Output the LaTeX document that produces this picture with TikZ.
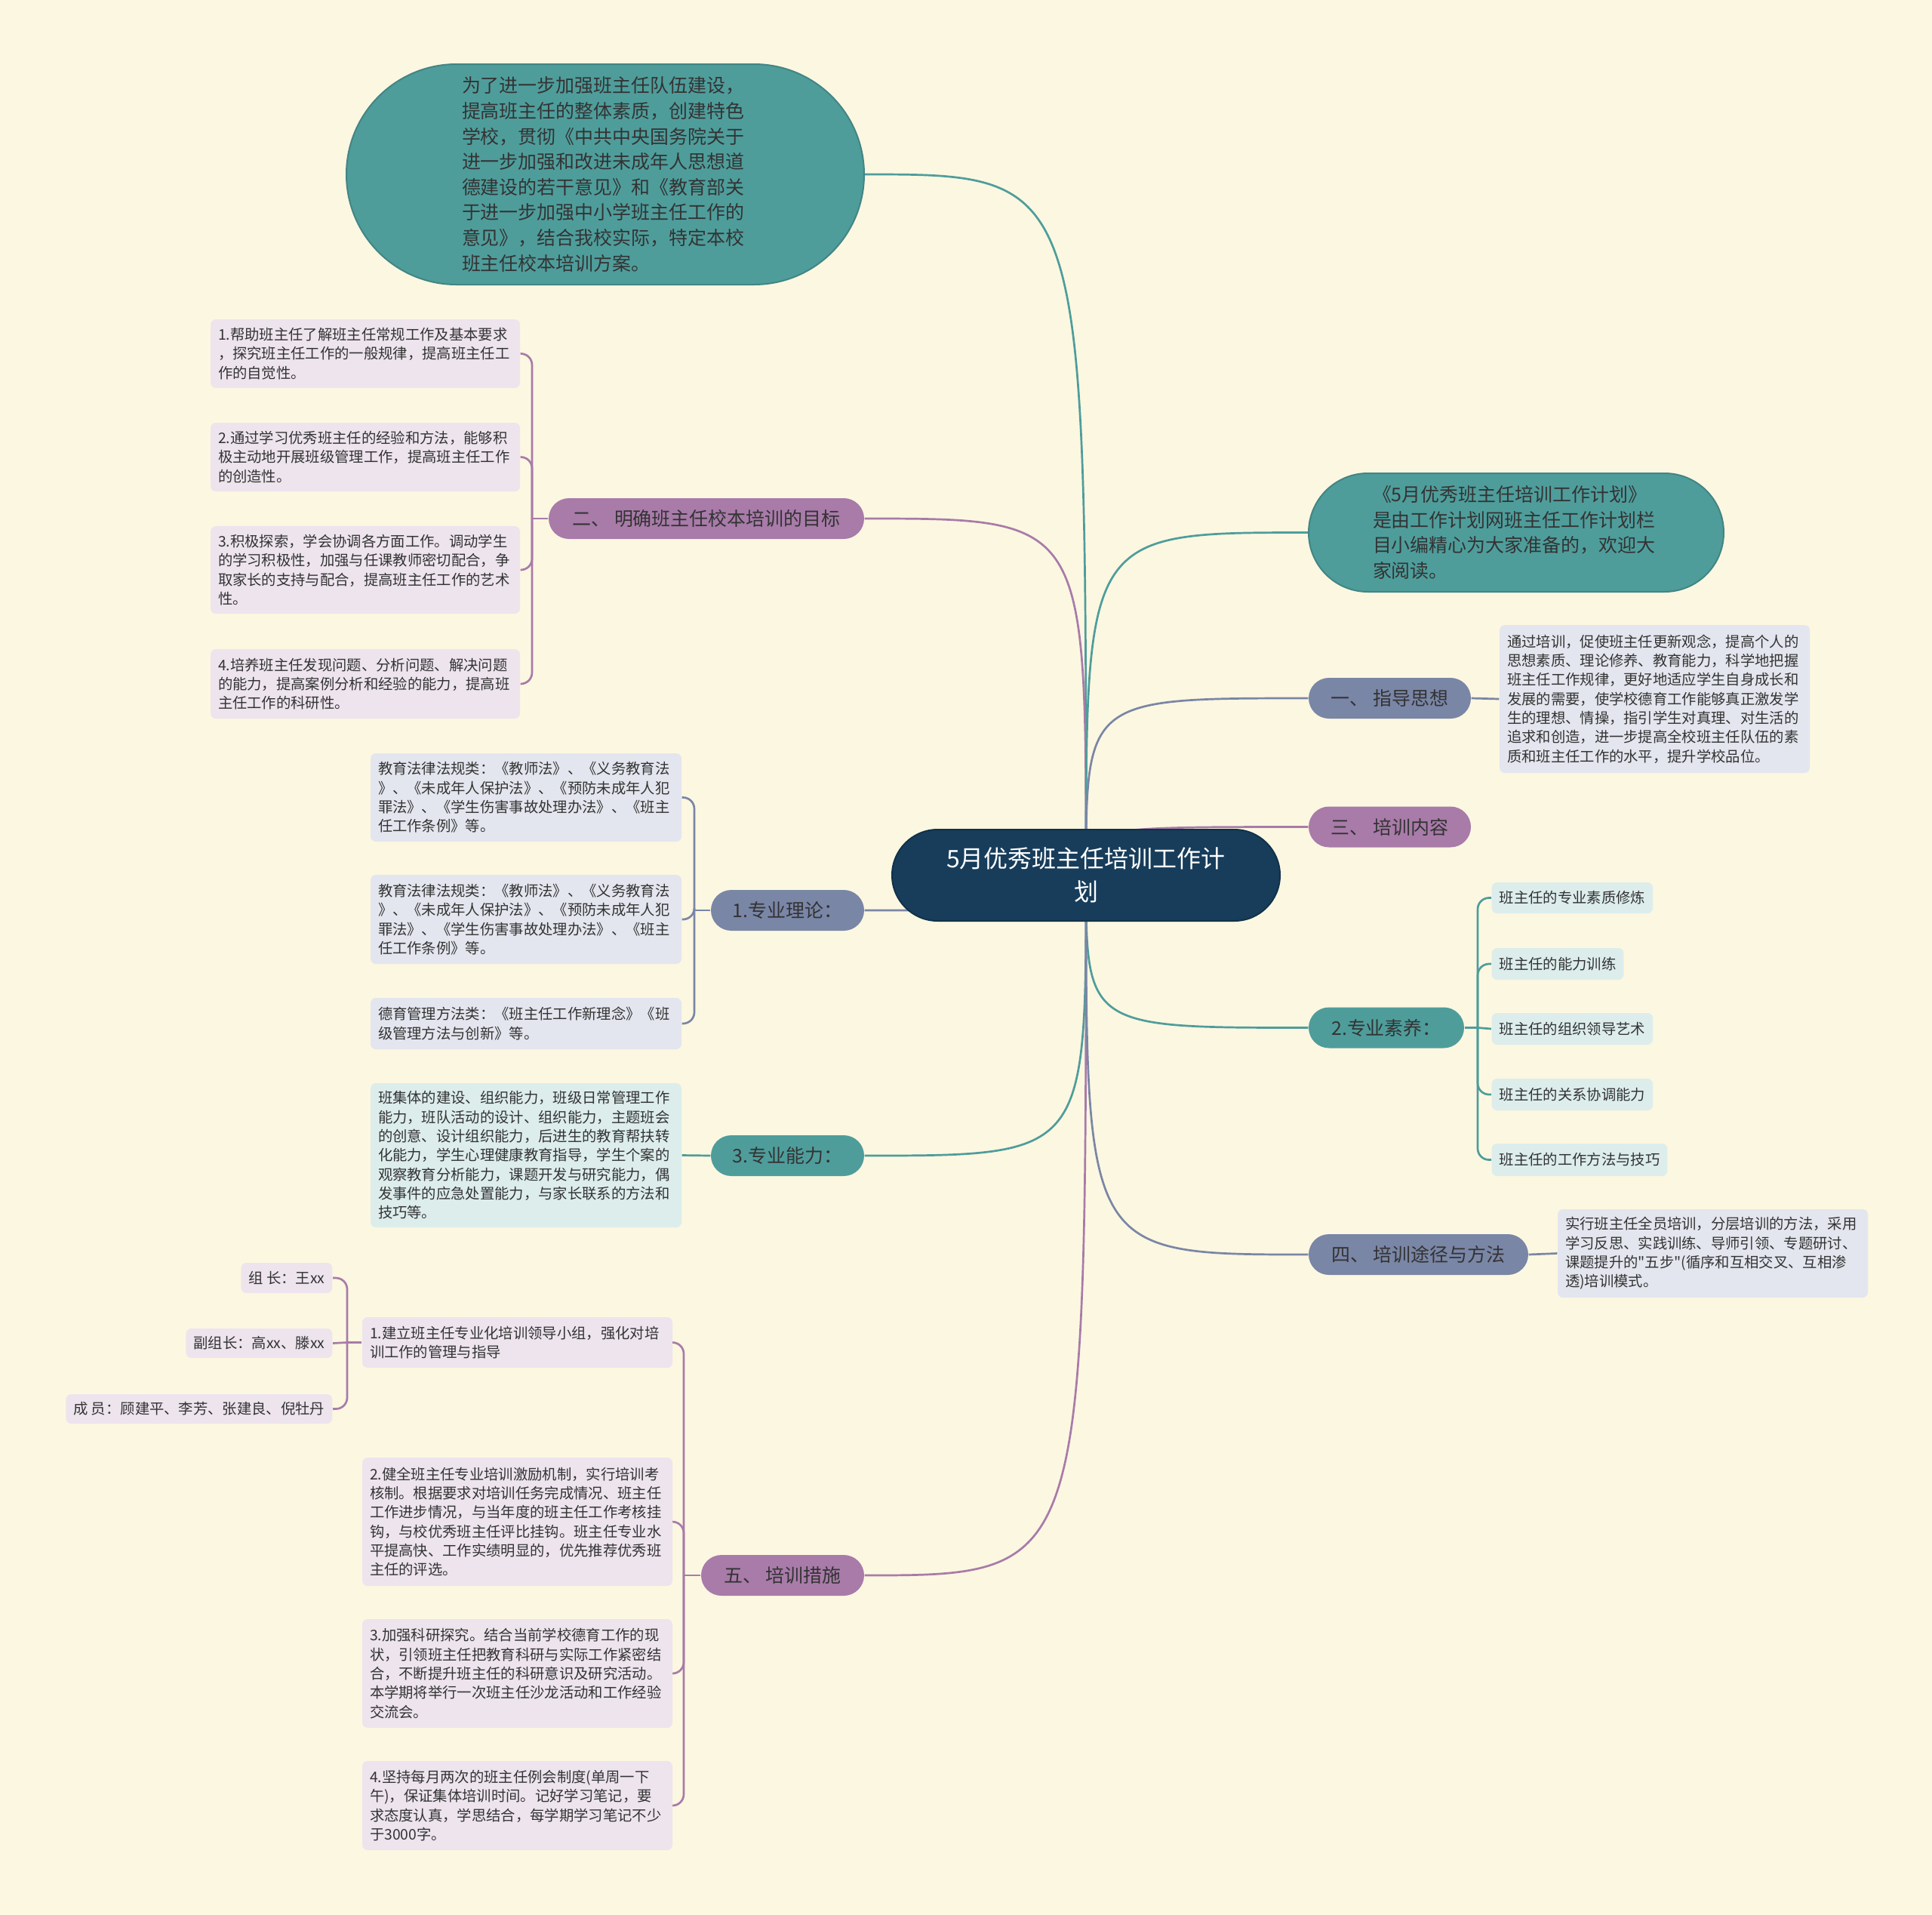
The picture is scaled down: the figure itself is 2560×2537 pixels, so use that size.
\documentclass[tikz,border=0pt]{standalone}
\usepackage{fontspec}
\setmainfont{Noto Sans CJK SC}
\newfontfamily\plainq{Noto Sans CJK SC}
\definecolor{bgc}{HTML}{FCF7E1}
\definecolor{cnavy}{HTML}{173D5B}
\definecolor{cteal}{HTML}{4E9D9B}
\definecolor{cpurp}{HTML}{A87BA9}
\definecolor{cslate}{HTML}{7A86A6}
\definecolor{clav}{HTML}{EDE4EE}
\definecolor{cgblue}{HTML}{E3E6EE}
\definecolor{clteal}{HTML}{DCEDEC}
\definecolor{ctxt}{HTML}{333333}
\pgfdeclarelayer{bglayer}
\pgfdeclarelayer{edgelayer}
\pgfsetlayers{bglayer,edgelayer,main}
\tikzset{
  pill/.style={rounded corners=2.7mm, minimum height=5.4mm, inner xsep=2mm, inner ysep=0pt,
    font=\fontsize{7.1}{9.5}\selectfont, text=ctxt, align=center},
  bigpill/.style={inner sep=0pt, font=\fontsize{7.1}{9.56}\selectfont, text=ctxt, align=left},
  leafbox/.style={rounded corners=0.7mm, inner xsep=1mm, inner ysep=0.8mm,
    font=\fontsize{5.5}{7.2}\selectfont, text=ctxt, align=left},
  conn/.style={line width=0.27mm},
  brace/.style={line width=0.27mm, rounded corners=1.5mm},
}
\begin{document}
\begin{tikzpicture}[x=0.1mm,y=-0.1mm]
\begin{pgfonlayer}{bglayer}
\fill[bgc] (0,0) rectangle (2560,2537);
\end{pgfonlayer}
\useasboundingbox (0,0) rectangle (2560,2537);

% central node
\node[fill=cnavy, draw=cnavy!80!black, line width=0.2mm, rounded corners=6.05mm, minimum width=51.4mm, minimum height=12.1mm,
  text=white, font=\fontsize{9.1}{12.5}\selectfont, align=center, inner sep=0pt] (C) at (1439,1159.5)
  {5月优秀班主任培训工作计\\划};

% top intro node
\node[bigpill, fill=cteal, draw=cteal!85!black, line width=0.2mm, minimum width=68.6mm, minimum height=29.2mm, rounded corners=14.6mm] (intro) at (802,231)
  {\parbox{38mm}{为了进一步加强班主任队伍建设，\\提高班主任的整体素质，创建特色\\学校，贯彻《中共中央国务院关于\\进一步加强和改进未成年人思想道\\德建设的若干意见》和《教育部关\\于进一步加强中小学班主任工作的\\意见》，结合我校实际，特定本校\\班主任校本培训方案。}};

% right about node
\node[bigpill, fill=cteal, draw=cteal!85!black, line width=0.2mm, minimum width=55mm, minimum height=15.7mm, rounded corners=7.85mm] (about) at (2009,705.5)
  {\parbox{38mm}{《5月优秀班主任培训工作计划》\\是由工作计划网班主任工作计划栏\\目小编精心为大家准备的，欢迎大\\家阅读。}};

% level-1 branches
\node[pill, fill=cpurp, minimum width=41.8mm] (b2) at (936,687) {二、 明确班主任校本培训的目标};
\node[pill, fill=cslate, minimum width=20.3mm] (p1) at (1043.5,1206) {1.专业理论：};
\node[pill, fill=cteal, minimum width=20.3mm] (p3) at (1043.5,1531) {3.专业能力：};
\node[pill, fill=cpurp, minimum width=21.6mm] (b5) at (1037,2087) {五、 培训措施};
\node[pill, fill=cslate, minimum width=21.5mm] (b1) at (1841.5,925) {一、 指导思想};
\node[pill, fill=cpurp, minimum width=21.5mm] (b3) at (1841.5,1095.5) {三、 培训内容};
\node[pill, fill=cteal, minimum width=20.6mm] (p2) at (1837,1361.5) {2.专业素养：};
\node[pill, fill=cslate, minimum width=29.1mm] (b4) at (1879.5,1662) {四、 培训途径与方法};

% leaves of b2
\node[leafbox, fill=clav, minimum width=41mm, minimum height=9.1mm, text width=39mm] (g1) at (484,468.5)
  {1.帮助班主任了解班主任常规工作及基本要求\\，探究班主任工作的一般规律，提高班主任工\\作的自觉性。};
\node[leafbox, fill=clav, minimum width=41mm, minimum height=9.1mm, text width=39mm] (g2) at (484,605.5)
  {2.通过学习优秀班主任的经验和方法，能够积\\极主动地开展班级管理工作，提高班主任工作\\的创造性。};
\node[leafbox, fill=clav, minimum width=41mm, minimum height=11.6mm, text width=39mm] (g3) at (484,755)
  {3.积极探索，学会协调各方面工作。调动学生\\的学习积极性，加强与任课教师密切配合，争\\取家长的支持与配合，提高班主任工作的艺术\\性。};
\node[leafbox, fill=clav, minimum width=41mm, minimum height=9.2mm, text width=39mm] (g4) at (484,906)
  {4.培养班主任发现问题、分析问题、解决问题\\的能力，提高案例分析和经验的能力，提高班\\主任工作的科研性。};

% leaves of p1
\node[leafbox, fill=cgblue, minimum width=41.2mm, minimum height=11.7mm, text width=39.2mm] (t1) at (697,1056.5)
  {教育法律法规类：《教师法》、《义务教育法\\》、《未成年人保护法》、《预防未成年人犯\\罪法》、《学生伤害事故处理办法》、《班主\\任工作条例》等。};
\node[leafbox, fill=cgblue, minimum width=41.2mm, minimum height=11.8mm, text width=39.2mm] (t2) at (697,1218)
  {教育法律法规类：《教师法》、《义务教育法\\》、《未成年人保护法》、《预防未成年人犯\\罪法》、《学生伤害事故处理办法》、《班主\\任工作条例》等。};
\node[leafbox, fill=cgblue, minimum width=41.2mm, minimum height=6.8mm, text width=39.2mm] (t3) at (697,1356)
  {德育管理方法类：《班主任工作新理念》《班\\级管理方法与创新》等。};

% leaf of p3
\node[leafbox, fill=clteal, minimum width=41.2mm, minimum height=19.1mm, text width=39.2mm] (u1) at (697,1530.5)
  {班集体的建设、组织能力，班级日常管理工作\\能力，班队活动的设计、组织能力，主题班会\\的创意、设计组织能力，后进生的教育帮扶转\\化能力，学生心理健康教育指导，学生个案的\\观察教育分析能力，课题开发与研究能力，偶\\发事件的应急处置能力，与家长联系的方法和\\技巧等。};

% leaves of b5
\node[leafbox, fill=clav, minimum width=41.1mm, minimum height=6.7mm, text width=39.1mm] (m1) at (685.5,1778.5)
  {1.建立班主任专业化培训领导小组，强化对培\\训工作的管理与指导};
\node[leafbox, fill=clav, minimum width=41.1mm, minimum height=17mm, text width=39.1mm] (m2) at (685.5,2016)
  {2.健全班主任专业培训激励机制，实行培训考\\核制。根据要求对培训任务完成情况、班主任\\工作进步情况，与当年度的班主任工作考核挂\\钩，与校优秀班主任评比挂钩。班主任专业水\\平提高快、工作实绩明显的，优先推荐优秀班\\主任的评选。};
\node[leafbox, fill=clav, minimum width=41.1mm, minimum height=14.4mm, text width=39.1mm] (m3) at (685.5,2217)
  {3.加强科研探究。结合当前学校德育工作的现\\状，引领班主任把教育科研与实际工作紧密结\\合，不断提升班主任的科研意识及研究活动。\\本学期将举行一次班主任沙龙活动和工作经验\\交流会。};
\node[leafbox, fill=clav, minimum width=41.1mm, minimum height=11.8mm, text width=39.1mm] (m4) at (685.5,2392)
  {4.坚持每月两次的班主任例会制度(单周一下\\午)，保证集体培训时间。记好学习笔记，要\\求态度认真，学思结合，每学期学习笔记不少\\于3000字。};

% children of m1
\node[leafbox, fill=clav, minimum height=4mm, anchor=east] (k1) at (441,1693) {组 长：王xx};
\node[leafbox, fill=clav, minimum height=3.9mm, anchor=east] (k2) at (441,1779.5) {副组长：高xx、滕xx};
\node[leafbox, fill=clav, minimum height=3.9mm, anchor=east] (k3) at (441,1866.5) {成 员：顾建平、李芳、张建良、倪牡丹};

% leaf of b1
\node[leafbox, fill=cgblue, minimum width=41.1mm, minimum height=19.6mm, text width=39.1mm] (v1) at (2192.5,926)
  {通过培训，促使班主任更新观念，提高个人的\\思想素质、理论修养、教育能力，科学地把握\\班主任工作规律，更好地适应学生自身成长和\\发展的需要，使学校德育工作能够真正激发学\\生的理想、情操，指引学生对真理、对生活的\\追求和创造，进一步提高全校班主任队伍的素\\质和班主任工作的水平，提升学校品位。};

% children of p2
\node[leafbox, fill=clteal, minimum height=4.1mm, anchor=west] (s1) at (1976,1189.5) {班主任的专业素质修炼};
\node[leafbox, fill=clteal, minimum height=4.2mm, anchor=west] (s2) at (1976,1277) {班主任的能力训练};
\node[leafbox, fill=clteal, minimum height=4.2mm, anchor=west] (s3) at (1976,1363) {班主任的组织领导艺术};
\node[leafbox, fill=clteal, minimum height=4.2mm, anchor=west] (s4) at (1976,1450) {班主任的关系协调能力};
\node[leafbox, fill=clteal, minimum height=4.3mm, anchor=west] (s5) at (1976,1536.5) {班主任的工作方法与技巧};

% leaf of b4
\node[leafbox, fill=cgblue, minimum width=41.1mm, minimum height=11.7mm, text width=39.1mm] (w1) at (2269.5,1660.5)
  {实行班主任全员培训，分层培训的方法，采用\\学习反思、实践训练、导师引领、专题研讨、\\课题提升的{\plainq"}五步{\plainq"}(循序和互相交叉、互相渗\\透)培训模式。};

% junction coordinates
\coordinate (j2) at (705,687);
\coordinate (jp1) at (920,1206);
\coordinate (j5) at (906,2087);
\coordinate (jm1) at (460,1778.5);
\coordinate (jp2) at (1958,1361.5);

\begin{pgfonlayer}{edgelayer}
% centre to level 1
\draw[conn, cteal] (C.center) .. controls (C.center |- intro.east) .. (intro.east);
\draw[conn, cpurp] (C.center) .. controls (C.center |- b2.east) .. (b2.east);
\draw[conn, cslate] (C.center) .. controls (C.center |- p1.east) .. (p1.east);
\draw[conn, cteal] (C.center) .. controls (C.center |- p3.east) .. (p3.east);
\draw[conn, cpurp] (C.center) .. controls (C.center |- b5.east) .. (b5.east);
\draw[conn, cteal] (C.center) .. controls (C.center |- about.west) .. (about.west);
\draw[conn, cslate] (C.center) .. controls (C.center |- b1.west) .. (b1.west);
\draw[conn, cpurp] (C.center) .. controls (C.center |- b3.west) .. (b3.west);
\draw[conn, cteal] (C.center) .. controls (C.center |- p2.west) .. (p2.west);
\draw[conn, cslate] (C.center) .. controls (C.center |- b4.west) .. (b4.west);

% b2 brace
\draw[conn, cpurp] (b2.west) -- (j2);
\foreach \c in {g1,g2,g3,g4} \draw[brace, cpurp] (j2) |- (\c.east);
% p1 brace
\draw[conn, cslate] (p1.west) -- (jp1);
\foreach \c in {t1,t2,t3} \draw[brace, cslate] (jp1) |- (\c.east);
% p3
\draw[conn, cteal] (p3.west) -- (u1.east);
% b5 brace
\draw[conn, cpurp] (b5.west) -- (j5);
\foreach \c in {m1,m2,m3,m4} \draw[brace, cpurp] (j5) |- (\c.east);
% m1 brace
\draw[conn, cpurp] (m1.west) -- (jm1);
\draw[brace, cpurp] (jm1) |- (k1.east);
\draw[conn, cpurp] (jm1) -- (k2.east);
\draw[brace, cpurp] (jm1) |- (k3.east);
% b1
\draw[conn, cslate] (b1.east) -- (v1.west);
% p2 brace
\draw[conn, cteal] (p2.east) -- (jp2);
\draw[brace, cteal] (jp2) |- (s1.west);
\draw[brace, cteal] (jp2) |- (s2.west);
\draw[conn, cteal] (jp2) -- (s3.west);
\draw[brace, cteal] (jp2) |- (s4.west);
\draw[brace, cteal] (jp2) |- (s5.west);
% b4
\draw[conn, cslate] (b4.east) -- (w1.west);
\end{pgfonlayer}
\end{tikzpicture}
\end{document}
